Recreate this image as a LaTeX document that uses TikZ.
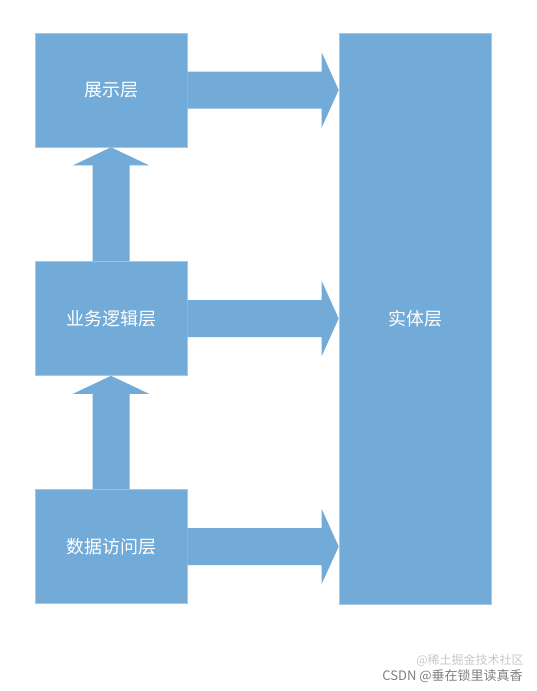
\documentclass[tikz,border=0pt]{standalone}
\usepackage{fontspec}
\newfontfamily\cjk{Noto Sans CJK SC}
\usetikzlibrary{calc}
\definecolor{boxblue}{HTML}{72AAD8}
\definecolor{boxedge}{HTML}{A4C7E6}
\newcommand\fatright[2]{%
  \fill[fat] ($(#1.east)+(0,-18.5)$) -- ($(#2.west |- #1.east)+(-17,-18.5)$) -- ($(#2.west |- #1.east)+(-17,-37.5)$) -- (#2.west |- #1.east) -- ($(#2.west |- #1.east)+(-17,37.5)$) -- ($(#2.west |- #1.east)+(-17,18.5)$) -- ($(#1.east)+(0,18.5)$) -- cycle;}
\newcommand\fatup[2]{%
  \fill[fat] ($(#1.north)+(-18.5,0)$) -- ($(#2.south)+(-18.5,18)$) -- ($(#2.south)+(-38,18)$) -- (#2.south) -- ($(#2.south)+(38,18)$) -- ($(#2.south)+(18.5,18)$) -- ($(#1.north)+(18.5,0)$) -- cycle;}
\begin{document}
\begin{tikzpicture}[x=1pt,y=-1pt,
  layer/.style={fill=boxblue,draw=boxedge,line width=0.6pt,text=white,font=\cjk\fontsize{18}{20}\selectfont,inner sep=0pt,minimum width=152pt,minimum height=114pt},
  fat/.style={fill=boxblue}]
\useasboundingbox (0,0) rectangle (537,691);
\node[layer] (show) at (111,90) {展示层};
\node[layer] (logic) at (111,318.5) {业务逻辑层};
\node[layer] (data) at (111,546.5) {数据访问层};
\node[layer,minimum height=571pt] (ent) at (415,318.5) {实体层};
\fatright{show}{ent}
\fatright{logic}{ent}
\fatright{data}{ent}
\fatup{logic}{show}
\fatup{data}{logic}
\node[font=\cjk\fontsize{12}{13}\selectfont,text=black!22,inner sep=0pt] (wm2) at (470,660) {@稀土掘金技术社区};
\node[font=\cjk\fontsize{13}{14}\selectfont,text=black!50,inner sep=0pt] (wm) at (452.5,676) {CSDN @垂在锁里读真香};
\end{tikzpicture}
\end{document}
